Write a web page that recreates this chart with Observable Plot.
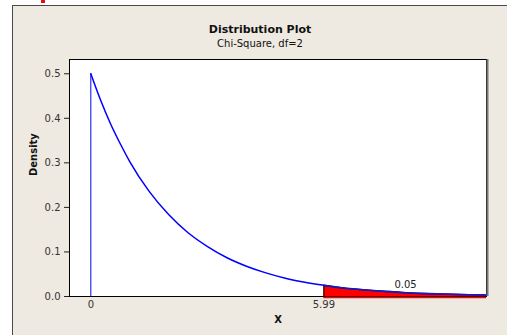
<!DOCTYPE html>
<html><head><meta charset="utf-8">
<script src="https://cdn.jsdelivr.net/npm/d3@7"></script>
<script src="https://cdn.jsdelivr.net/npm/@observablehq/plot@0.6"></script>
<style>
html,body{margin:0;padding:0;background:#fff;}
#wrap{position:relative;width:507px;height:335px;overflow:hidden;}
#panel{position:absolute;left:12px;top:5px;width:520px;height:340px;background:#eeeae1;border-left:1px solid #4a4a4a;border-top:1px solid #4a4a4a;}
#mark{position:absolute;left:41px;top:0;width:4px;height:3px;background:#e01010;}
#chart{position:absolute;left:0;top:0;}
</style></head><body>
<div id="wrap"><div id="panel"></div><div id="mark"></div><div id="chart"></div></div>
<script>
// values
const xs      = [0, 0.25, 0.5, 0.75, 1, 1.5, 2, 2.5, 3, 3.5, 4, 4.5, 5, 5.5, 5.99, 6.5, 7, 7.5, 8, 8.5, 9, 9.5, 10, 10.17];
const density = [0.500, 0.441, 0.389, 0.344, 0.303, 0.236, 0.184, 0.143, 0.112, 0.087, 0.068, 0.053, 0.041, 0.032, 0.025, 0.019, 0.015, 0.012, 0.009, 0.007, 0.0056, 0.0043, 0.0034, 0.0031];
const critical = 5.99;
const tailLabel = ["0.05"];
const tailLabelPos = [8.09, 0.026];
const xTicks = [0, 5.99];
const xTickLabels = ["0", "5.99"];
const yTicks = [0, 0.1, 0.2, 0.3, 0.4, 0.5];
const yTickLabels = ["0.0", "0.1", "0.2", "0.3", "0.4", "0.5"];
const titleText = "Distribution Plot";
const subtitleText = "Chi-Square, df=2";
const xLabel = "X";
const yLabel = "Density";
const xDomain = [-0.548, 10.17];
const yDomain = [0, 0.532];

const pts = xs.map((x, i) => ({x, y: density[i]}));
const tail = pts.filter(d => d.x >= critical);
const critY = density[xs.indexOf(critical)];

const chart = Plot.plot({
  width: 507, height: 335,
  marginLeft: 69, marginRight: 21, marginTop: 59, marginBottom: 39,
  x: {domain: xDomain, axis: null},
  y: {domain: yDomain},
  style: {background: "transparent", fontFamily: "DejaVu Sans", fontSize: "10px", color: "#222"},
  marks: [
    Plot.frame({fill: "white", stroke: "black"}),
    Plot.areaY(tail, {x: "x", y: "y", fill: "red", curve: "monotone-x"}),
    Plot.ruleY([0], {x1: critical, x2: xDomain[1], stroke: "red", strokeWidth: 1.5, dy: 1}),
    Plot.ruleX([critical], {y1: 0, y2: critY, stroke: "black"}),
    Plot.ruleX([0], {y1: 0, y2: density[0], stroke: "blue"}),
    Plot.lineY(pts, {x: "x", y: "y", stroke: "blue", curve: "monotone-x"}),
    Plot.lineY(tail, {x: "x", y: "y", stroke: "#1c1ca8", strokeWidth: 1.6, curve: "monotone-x"}),
    Plot.ruleX([xDomain[1]], {stroke: "#777", strokeWidth: 2, dx: 1}),
    Plot.axisY({ticks: yTicks, tickSize: 5, tickFormat: () => "", label: null, stroke: "#222"}),
    Plot.text(yTicks, {y: d => d, frameAnchor: "left", dx: -9, textAnchor: "end", lineAnchor: "middle", text: (d, i) => yTickLabels[i], fontSize: 10, fill: "#333"}),
    Plot.text(xTicks, {x: d => d, frameAnchor: "bottom", lineAnchor: "middle", dy: 8, text: (d, i) => xTickLabels[i], fontSize: 10, fill: "#333"}),
    Plot.text(tailLabel, {x: () => tailLabelPos[0], y: () => tailLabelPos[1], text: d => d, fontSize: 10, fill: "#222"}),
    Plot.text([titleText], {frameAnchor: "top", lineAnchor: "middle", dx: -18, dy: -30, fontWeight: "bold", fontSize: 11, fill: "#111"}),
    Plot.text([subtitleText], {frameAnchor: "top", lineAnchor: "middle", dx: -18, dy: -16, fontSize: 10, fill: "#111"}),
    Plot.text([yLabel], {frameAnchor: "left", lineAnchor: "middle", rotate: -90, dx: -36, dy: -2, fontWeight: "bold", fontSize: 10, fill: "#111"}),
    Plot.text([xLabel], {frameAnchor: "bottom", lineAnchor: "middle", dy: 23, fontWeight: "bold", fontSize: 10, fill: "#111"})
  ]
});
document.getElementById("chart").appendChild(chart);
</script>
</body></html>
